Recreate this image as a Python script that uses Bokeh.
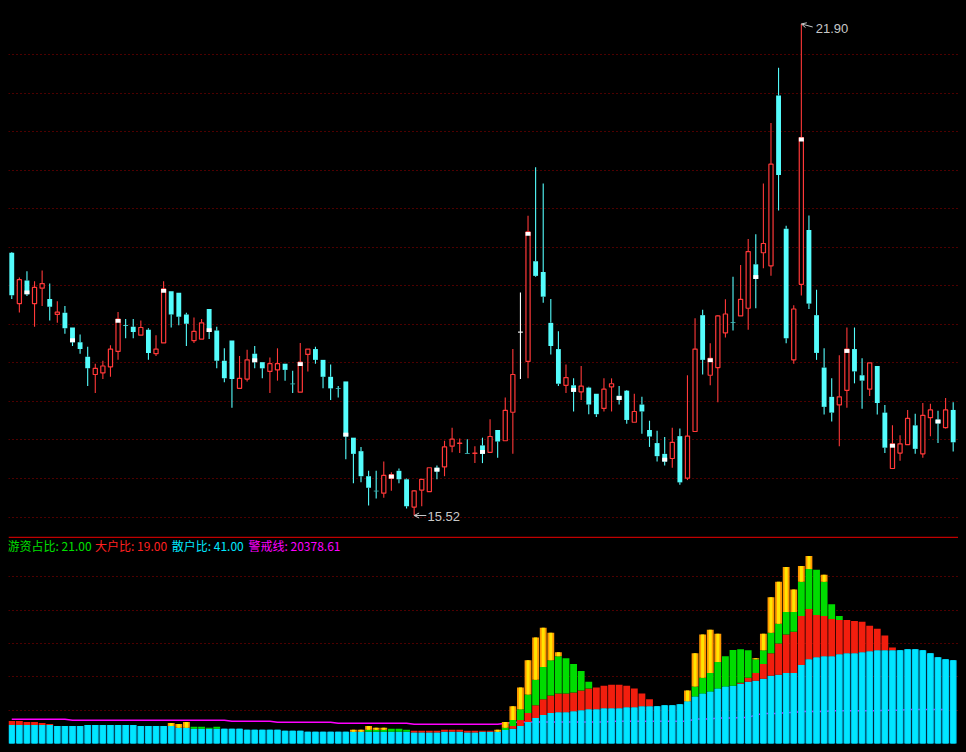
import numpy as np
from jinja2 import Template
from bokeh.plotting import figure
from bokeh.layouts import column
from bokeh.models import Range1d, FixedTicker, Span, Arrow, OpenHead, ColumnDataSource, Label
from bokeh.embed import file_html
from bokeh.resources import INLINE

# ---------------- price data (daily candles) ----------------
open_ = [18.93, 18.27, 18.57, 18.27, 18.47, 18.33, 18.13, 18.15, 17.96, 17.77,
         17.58, 17.35, 17.37, 17.45, 17.65, 17.99, 17.97, 17.86, 17.93, 17.62,
         17.76, 18.43, 18.41, 18.13, 17.79, 17.81, 18.20, 17.92, 17.53, 17.79,
         17.17, 17.29, 17.62, 17.51, 17.39, 17.41, 17.49, 17.23, 17.12, 17.61,
         17.68, 17.54, 17.32, 17.17, 17.26, 16.53, 16.355, 16.03, 15.84, 15.81,
         16.00, 16.10, 15.99, 15.63, 15.85, 15.83, 16.14, 16.15, 16.42, 16.455,
         16.33, 16.325, 16.43, 16.34, 16.63, 16.49, 16.86, 17.90, 17.52, 18.82,
         18.68, 18.02, 17.68, 17.21, 17.21, 17.125, 17.18, 17.10, 16.91, 17.19,
         17.075, 17.14, 16.73, 16.96, 16.63, 16.46, 16.32, 16.26, 16.55, 16.005,
         16.61, 18.12, 17.34, 17.44, 17.89, 18.03, 18.11, 18.21, 18.78, 18.93,
         18.76, 20.97, 19.24, 17.54, 18.52, 19.225, 18.12, 17.44, 17.06, 16.955,
         17.145, 17.68, 17.34, 17.16, 17.46, 16.855, 16.13, 16.33, 16.44, 16.69,
         16.32, 16.79, 16.765, 16.66, 16.89]
high = [18.94, 18.61, 18.69, 18.56, 18.70, 18.53, 18.30, 18.24, 17.96, 17.87,
        17.71, 17.49, 17.53, 17.73, 18.16, 18.07, 18.07, 18.05, 17.95, 17.86,
        18.56, 18.43, 18.41, 18.15, 18.09, 18.07, 18.20, 17.97, 17.69, 17.79,
        17.59, 17.67, 17.72, 17.51, 17.57, 17.69, 17.49, 17.40, 17.76, 17.68,
        17.71, 17.54, 17.48, 17.20, 17.26, 16.53, 16.41, 16.10, 16.10, 16.22,
        16.08, 16.13, 16.00, 15.85, 15.99, 16.14, 16.17, 16.49, 16.66, 16.52,
        16.51, 16.42, 16.53, 16.77, 16.63, 17.05, 17.68, 18.415, 19.41, 20.04,
        19.83, 18.33, 17.91, 17.48, 17.30, 17.46, 17.19, 17.10, 17.30, 17.30,
        17.20, 17.15, 17.10, 17.06, 16.75, 16.62, 16.54, 16.66, 16.65, 17.34,
        18.08, 18.19, 17.755, 18.12, 18.325, 18.62, 18.77, 19.11, 19.17, 19.83,
        20.615, 21.33, 19.28, 18.25, 21.90, 19.415, 18.45, 17.69, 17.30, 17.60,
        17.96, 17.96, 17.56, 17.50, 17.46, 16.955, 16.69, 16.56, 16.89, 16.84,
        16.98, 16.97, 16.88, 17.045, 16.99]
low = [18.33, 18.155, 18.37, 17.97, 18.24, 18.05, 18.02, 17.88, 17.72, 17.62,
       17.20, 17.11, 17.29, 17.32, 17.54, 17.82, 17.82, 17.86, 17.54, 17.59,
       17.76, 17.96, 17.99, 17.72, 17.76, 17.81, 17.81, 17.43, 17.25, 16.92,
       17.17, 17.26, 17.43, 17.30, 17.11, 17.27, 17.27, 17.11, 17.12, 17.39,
       17.49, 17.17, 17.02, 17.05, 16.25, 15.94, 15.95, 15.65, 15.74, 15.75,
       15.84, 15.94, 15.61, 15.52, 15.64, 15.83, 15.99, 16.03, 16.34, 16.33,
       16.32, 16.20, 16.20, 16.34, 16.27, 16.49, 16.32, 17.29, 17.30, 18.62,
       18.28, 17.61, 17.20, 17.11, 16.87, 17.02, 16.835, 16.80, 16.87, 16.87,
       16.96, 16.71, 16.73, 16.58, 16.41, 16.22, 16.17, 16.14, 15.92, 15.98,
       16.61, 17.35, 17.21, 16.99, 17.83, 17.92, 18.11, 17.93, 18.21, 18.73,
       18.63, 19.48, 17.755, 17.49, 18.375, 18.20, 17.54, 16.83, 16.74, 16.42,
       16.92, 17.235, 16.905, 17.07, 16.83, 16.33, 16.13, 16.23, 16.44, 16.32,
       16.27, 16.55, 16.46, 16.65, 16.35]
close = [18.38, 18.58, 18.39, 18.48, 18.53, 18.23, 18.16, 17.95, 17.77, 17.68,
         17.43, 17.43, 17.46, 17.68, 18.07, 17.985, 17.90, 17.96, 17.63, 17.68,
         18.46, 18.13, 18.10, 18.01, 17.91, 18.02, 17.90, 17.53, 17.30, 17.29,
         17.30, 17.54, 17.51, 17.43, 17.49, 17.49, 17.41, 17.225, 17.51, 17.68,
         17.54, 17.32, 17.17, 17.165, 16.545, 16.32, 16.03, 15.88, 15.835, 16.04,
         16.05, 15.99, 15.64, 15.84, 15.99, 16.14, 16.09, 16.41, 16.51, 16.46,
         16.325, 16.33, 16.32, 16.545, 16.48, 16.885, 17.35, 17.90, 19.20, 18.63,
         18.36, 17.72, 17.23, 17.31, 17.125, 17.20, 16.96, 16.835, 17.16, 17.23,
         17.02, 16.76, 16.87, 16.87, 16.545, 16.29, 16.22, 16.47, 15.95, 16.55,
         17.68, 17.54, 17.56, 18.11, 18.135, 18.025, 18.325, 18.945, 18.59, 19.05,
         20.08, 19.94, 17.82, 18.20, 20.425, 18.27, 17.63, 16.93, 16.855, 17.06,
         17.68, 17.39, 17.27, 17.50, 16.98, 16.40, 16.45, 16.45, 16.78, 16.385,
         16.82, 16.89, 16.715, 16.89, 16.47]
# days carrying a white close marker
white_mark = [2, 8, 14, 20, 26, 32, 38, 44, 50, 56, 62, 68, 74, 80,
              86, 92, 98, 104, 110, 116, 122]
price_grid = [15.5, 16.0, 16.5, 17.0, 17.5, 18.0, 18.5, 19.0, 19.5, 20.0, 20.5, 21.0, 21.5]

# ---------------- indicator data (lower panel) ----------------
sanhu = [5.59, 5.59, 5.59, 5.59, 5.59, 5.59, 5.29, 5.29, 5.29, 5.29,
         5.59, 5.59, 5.59, 5.59, 5.59, 5.59, 5.59, 5.29, 5.29, 5.29,
         5.29, 5.29, 4.71, 4.71, 4.41, 4.41, 4.41, 4.41, 4.41, 4.41,
         4.41, 4.12, 4.12, 4.12, 4.12, 4.12, 3.82, 3.82, 3.82, 3.53,
         3.53, 3.53, 3.53, 3.53, 3.53, 3.53, 3.53, 3.53, 3.53, 3.53,
         3.53, 3.53, 3.53, 3.33, 3.33, 3.33, 3.33, 3.53, 3.53, 3.53,
         3.33, 3.33, 3.53, 3.53, 3.53, 4.02, 4.41, 5.29, 6.47, 7.65,
         8.53, 9.12, 9.41, 9.41, 9.71, 10.0, 10.29, 10.29, 10.59, 10.59,
         10.59, 10.88, 10.88, 11.18, 11.18, 11.18, 11.47, 11.47, 11.76, 12.65,
         14.12, 15.0, 15.59, 16.47, 17.06, 17.35, 17.94, 18.53, 18.82, 19.41,
         20.29, 20.59, 21.18, 21.18, 23.53, 25.29, 25.88, 26.18, 26.18, 26.76,
         27.06, 27.06, 27.35, 27.65, 27.94, 27.94, 27.94, 27.94, 28.24, 28.24,
         27.94, 27.06, 25.88, 25.29, 25.0]
dahu = [6.76, 6.76, 6.47, 6.47, 6.18, 5.88, 0, 0, 0, 0,
        0, 0, 0, 0, 0, 0, 0, 0, 0, 0,
        0, 0, 0, 0, 0, 0, 0, 0, 0, 0,
        0, 0, 0, 0, 0, 0, 0, 0, 0, 0,
        0, 0, 0, 0, 0, 0, 0, 0, 0, 0,
        0, 0, 0, 3.82, 3.82, 3.82, 3.82, 4.12, 4.12, 4.12,
        3.82, 3.82, 3.82, 3.82, 0, 0, 5.29, 7.06, 9.12, 11.47,
        13.24, 14.41, 15.0, 15.0, 15.29, 15.88, 16.47, 16.76, 17.35, 17.65,
        17.65, 17.35, 16.47, 15.0, 13.24, 0, 0, 0, 0, 0,
        0, 0, 0, 0, 0, 0, 18.24, 19.71, 21.18, 23.82,
        27.06, 30.0, 32.65, 33.53, 38.24, 40.29, 38.53, 38.24, 37.35, 37.06,
        37.06, 36.76, 36.47, 35.29, 34.41, 32.35, 28.82, 0, 0, 0,
        0, 0, 0, 0, 0]
youzi = [0, 0, 0, 0, 0, 0, 0, 0, 0, 0,
         0, 0, 0, 0, 0, 0, 0, 0, 0, 0,
         0, 0, 0, 0, 5.0, 5.0, 4.71, 5.0, 0, 0,
         0, 0, 0, 0, 0, 0, 0, 0, 0, 0,
         0, 0, 0, 0, 0, 0, 0, 4.12, 4.12, 4.12,
         4.41, 4.41, 4.12, 0, 0, 0, 0, 0, 0, 0,
         0, 0, 0, 0, 0, 4.71, 7.06, 10.29, 14.71, 19.12,
         22.94, 25.0, 26.18, 25.59, 23.82, 21.76, 18.53, 0, 0, 0,
         0, 0, 0, 0, 0, 0, 0, 0, 0, 0,
         17.06, 19.71, 21.18, 24.41, 26.18, 28.0, 28.24, 27.94, 25.29, 27.94,
         33.24, 35.88, 39.41, 39.41, 48.53, 52.35, 52.06, 48.53, 41.76, 38.24,
         0, 0, 0, 0, 0, 0, 0, 0, 0, 0,
         0, 0, 0, 0, 0]
zhuli = [0, 0, 0, 0, 0, 0, 0, 0, 0, 0,
         0, 0, 0, 0, 0, 0, 0, 0, 0, 0,
         0, 6.18, 5.88, 6.47, 0, 0, 0, 0, 0, 0,
         0, 0, 0, 0, 0, 0, 0, 0, 0, 0,
         0, 0, 0, 0, 0, 4.12, 4.12, 5.29, 4.71, 4.71,
         0, 0, 0, 0, 0, 0, 0, 0, 0, 0,
         0, 0, 0, 0, 4.12, 6.47, 11.18, 16.76, 25.0, 31.76,
         34.7, 33.24, 27.35, 0, 0, 0, 0, 0, 0, 0,
         0, 0, 0, 0, 0, 0, 0, 0, 0, 15.88,
         27.06, 32.65, 34.12, 32.94, 0, 0, 0, 0, 25.59, 32.94,
         43.82, 48.53, 52.94, 46.18, 53.24, 56.18, 0, 50.59, 0, 0,
         0, 0, 0, 0, 0, 0, 0, 0, 0, 0,
         0, 0, 0, 0, 0]
warn_line = [7.25] * 8 + [6.96] * 21 + [6.67] * 6 + [6.37] * 8 + [6.08] * 10 + \
            [5.78] * 12 + [6.1, 6.3, 6.47] + [6.47] * 11 + [6.67] * 11 + \
            [7.35] * 3 + [7.65] * 3 + [7.84] * 2 + [8.53] + [9.02] * 3 + [9.31] * 2 + \
            [9.61] * 4 + [9.80] * 7 + [10.0] * 3 + [10.2] * 6
ind_grid = [10, 20, 30, 40, 50]
legend_items = [("游资占比: 21.00", "#00E000"), ("大户比: 19.00", "#FF2020"),
                ("散户比: 41.00", "#00E8FF"), ("警戒线: 20378.61", "#FF00FF")]
legend_x = [-0.55, 10.97, 21.07, 31.18]

n = len(close)
x = np.arange(n)
o = np.array(open_); c = np.array(close); h = np.array(high); l = np.array(low)

RED = "#FF3838"
CYAN = "#54FCFC"
XR = (-0.43, 124.70)

# ---------------- top: candles ----------------
p = figure(width=950, height=528, x_range=Range1d(*XR), y_range=Range1d(15.2475, 22.10),
           output_backend="svg", toolbar_location=None, min_border=0,
           background_fill_color="black", border_fill_color="black")
p.outline_line_color = None
p.xaxis.visible = False
p.yaxis.visible = False
p.xgrid.grid_line_color = None
p.ygrid.ticker = FixedTicker(ticks=price_grid)
p.ygrid.grid_line_color = "#9A0000"
p.ygrid.grid_line_dash = "1 3"
p.ygrid.grid_line_width = 1

up = c > o
dn = c < o
eq = c == o
col = np.where(up, RED, np.where(dn, CYAN, "#FFFFFF"))
btop = np.maximum(o, c)
bbot = np.minimum(o, c)

src_w = ColumnDataSource(dict(x=x, h=h, l=l, t=btop, b=bbot, col=col))
p.segment(x0="x", y0="t", x1="x", y1="h", color="col", line_width=1.1, source=src_w)
p.segment(x0="x", y0="b", x1="x", y1="l", color="col", line_width=1.1, source=src_w)

minh = 0.008
# down candles (filled cyan)
d_idx = np.where(dn)[0]
dt = btop[d_idx]; db = bbot[d_idx]
small = (dt - db) < minh
mid = (dt + db) / 2
dt = np.where(small, mid + minh / 2, dt); db = np.where(small, mid - minh / 2, db)
p.vbar(x=d_idx, top=dt, bottom=db, width=0.64, fill_color=CYAN, line_color=None)
# up candles (hollow red)
u_idx = np.where(up)[0]
p.vbar(x=u_idx, top=btop[u_idx], bottom=bbot[u_idx], width=0.55,
       fill_color="black", line_color=RED, line_width=1.2)
# flat candles
e_idx = np.where(eq)[0]
p.segment(x0=e_idx - 0.32, y0=c[e_idx], x1=e_idx + 0.32, y1=c[e_idx], color="#FFFFFF", line_width=1.1)

# white close markers
wm = np.array(white_mark)
dirn = np.sign(o[wm] - c[wm])
dirn = np.where(dirn == 0, 1, dirn)
wa = c[wm]; wb = c[wm] + dirn * 0.05
p.quad(left=wm - 0.33, right=wm + 0.33, top=np.maximum(wa, wb), bottom=np.minimum(wa, wb),
       fill_color="white", line_color=None)

# high / low annotations
hi_i = int(np.argmax(h)); lo_i = int(np.argmin(l))
p.add_layout(Arrow(end=OpenHead(size=5, line_color="#C8C8C8", line_width=1),
                   x_start=hi_i + 1.5, y_start=h[hi_i] - 0.04, x_end=hi_i, y_end=h[hi_i],
                   line_color="#C8C8C8", line_width=1))
p.add_layout(Label(x=hi_i + 1.9, y=h[hi_i] - 0.06, text=f"{h[hi_i]:.2f}", text_color="#C8C8C8",
                   text_font_size="13px", text_font="Liberation Sans", text_baseline="middle"))
p.add_layout(Arrow(end=OpenHead(size=5, line_color="#C8C8C8", line_width=1),
                   x_start=lo_i + 1.6, y_start=l[lo_i], x_end=lo_i, y_end=l[lo_i],
                   line_color="#C8C8C8", line_width=1))
p.add_layout(Label(x=lo_i + 1.75, y=l[lo_i] - 0.01, text=f"{l[lo_i]:.2f}", text_color="#C8C8C8",
                   text_font_size="13px", text_font="Liberation Sans", text_baseline="middle"))

# ---------------- bottom: indicator ----------------
q = figure(width=950, height=208, x_range=Range1d(*XR), y_range=Range1d(-0.29, 62.06),
           output_backend="svg", toolbar_location=None, min_border=0,
           background_fill_color="black", border_fill_color="black")
q.outline_line_color = None
q.xaxis.visible = False
q.yaxis.visible = False
q.xgrid.grid_line_color = None
q.ygrid.ticker = FixedTicker(ticks=ind_grid)
q.ygrid.grid_line_color = "#9A0000"
q.ygrid.grid_line_dash = "1 3"

s = np.array(sanhu); d = np.array(dahu); y_ = np.array(youzi); z = np.array(zhuli)
red_b = s; red_t = np.maximum(d, s)
grn_b = red_t; grn_t = np.maximum(y_, grn_b)
org_b = grn_t; org_t = np.maximum(z, org_b)

q.line(x=x, y=warn_line, line_color="#FF00FF", line_width=1.5)
W = 0.9
q.vbar(x=x, bottom=0, top=s, width=W, fill_color="#00C8F5", line_color=None)
q.vbar(x=x, bottom=0, top=s, width=W * 0.7, fill_color="#00E6FF", line_color=None)
m = d > s
q.vbar(x=x[m], bottom=red_b[m], top=red_t[m], width=W, fill_color="#F21E0E", line_color=None)
m = y_ > grn_b
q.vbar(x=x[m], bottom=grn_b[m], top=grn_t[m], width=W, fill_color="#00DC00", line_color=None)
m = z > org_b
q.vbar(x=x[m], bottom=org_b[m], top=org_t[m], width=W, fill_color="#FF9800", line_color=None)
q.vbar(x=x[m], bottom=org_b[m], top=org_t[m], width=W * 0.45, fill_color="#FFE400", line_color=None)

q.add_layout(Span(location=61.85, dimension="width", line_color="#C00000", line_width=1.5))
for (txt, colr), lx in zip(legend_items, legend_x):
    q.add_layout(Label(x=lx, y=59.3, text=txt, text_color=colr, text_font_size="12px",
                       text_font="Noto Sans CJK SC", text_baseline="middle"))

layout = column(p, q, spacing=0)

tmpl = Template("""<!DOCTYPE html>
<html lang="en">
<head>
<meta charset="utf-8">
<title>{{ title }}</title>
{{ bokeh_css }}
{{ bokeh_js }}
<style>html, body { background: #000000; }</style>
</head>
<body>
{{ plot_div }}
{{ plot_script }}
</body>
</html>""")

open("out.html", "w").write(file_html(layout, INLINE, template=tmpl))
